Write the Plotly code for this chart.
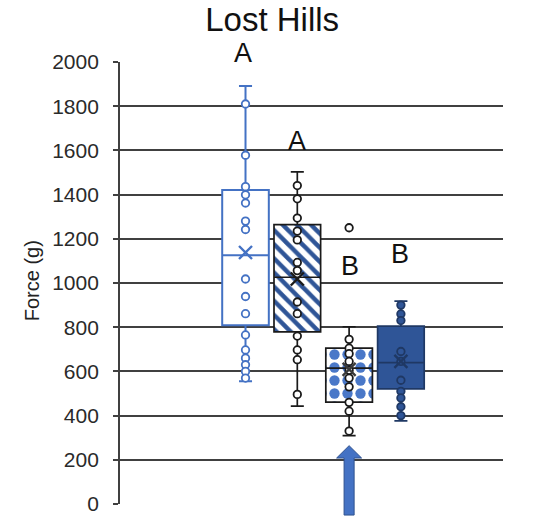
import plotly.graph_objects as go

# ---------------- data ----------------
groups = [1, 2, 3, 4]
q1 = [809, 779, 461, 521]
median = [1126, 1026, 615, 640]
q3 = [1421, 1264, 705, 805]
lower_whisker = [555, 443, 309, 376]
upper_whisker = [1891, 1503, 802, 918]
means = [1138, 1018, 609, 645]

points_1 = [1810, 1578, 1436, 1399, 1362, 1280, 1242, 1018, 939, 861, 765, 697, 660, 630, 600, 570]
points_2 = [1441, 1381, 1294, 1235, 1195, 1093, 1056, 914, 861, 760, 697, 653, 496]
points_3 = [1250, 745, 705, 680, 645, 605, 570, 530, 460, 420, 330]
points_4 = [900, 860, 830, 690, 645, 560, 510, 480, 440, 400]
all_points = [points_1, points_2, points_3, points_4]

letters = ["A", "A", "B", "B"]
letter_y = [2040, 1642, 1075, 1133]
letter_dx = [-0.05, 0.0, 0.02, -0.02]

y_ticks = [0, 200, 400, 600, 800, 1000, 1200, 1400, 1600, 1800, 2000]

# ---------------- styles ----------------
line_colors = ["#4472C4", "#1a1a1a", "#1a1a1a", "#1F3864"]
box_fills = ["white", "rgba(0,0,0,0)", "rgba(0,0,0,0)", "#2F5597"]
pt_line = ["#4472C4", "#1a1a1a", "#1a1a1a", "#1F3864"]
pt_fill = ["white", "white", "white", "#2F5597"]
mean_colors = ["#4472C4", "#1a1a1a", "#3a3a3a", "#1F3864"]

XMIN, XMAX = -1.423, 5.971
YMIN, YMAX = 0, 2000
BOXW = 0.9

fig = go.Figure()

# pattern fills (drawn under the box outlines)
fig.add_trace(go.Bar(
    x=[groups[1]], y=[q3[1] - q1[1]], base=[q1[1]], width=BOXW,
    marker=dict(color="white", line=dict(width=0),
                pattern=dict(shape="\\", fgcolor="#2F5597", bgcolor="white",
                             fgopacity=1, fillmode="replace",
                             size=10, solidity=0.45)),
    hoverinfo="skip", showlegend=False))
fig.add_trace(go.Bar(
    x=[groups[2]], y=[q3[2] - q1[2]], base=[q1[2]], width=BOXW,
    marker=dict(color="white", line=dict(width=0),
                pattern=dict(shape=".", fgcolor="#4A78C8", bgcolor="white",
                             fgopacity=1, fillmode="replace",
                             size=13, solidity=0.5)),
    hoverinfo="skip", showlegend=False))

for i, g in enumerate(groups):
    fig.add_trace(go.Box(
        x=[g], q1=[q1[i]], median=[median[i]], q3=[q3[i]],
        lowerfence=[lower_whisker[i]], upperfence=[upper_whisker[i]],
        width=BOXW, whiskerwidth=0.28,
        line=dict(color=line_colors[i], width=2 if i == 0 else 1.7),
        fillcolor=box_fills[i], boxpoints=False,
        hoverinfo="skip", showlegend=False))

for i, g in enumerate(groups):
    pts = all_points[i]
    fig.add_trace(go.Scatter(
        x=[g] * len(pts), y=pts, mode="markers",
        marker=dict(symbol="circle", size=7.5, color=pt_fill[i],
                    line=dict(color=pt_line[i], width=1.8)),
        hoverinfo="skip", showlegend=False))
    fig.add_trace(go.Scatter(
        x=[g], y=[means[i]], mode="markers",
        marker=dict(symbol="x-thin", size=13,
                    line=dict(color=mean_colors[i], width=2.4)),
        hoverinfo="skip", showlegend=False))

for i, g in enumerate(groups):
    fig.add_annotation(x=g + letter_dx[i], y=(letter_y[i] - YMIN) / (YMAX - YMIN),
                       xref="x", yref="paper",
                       text=letters[i], showarrow=False,
                       font=dict(family="Liberation Sans, Arial", size=27, color="#111111"),
                       xanchor="center", yanchor="middle")

# y-axis title
fig.add_annotation(x=-0.264, y=0.506, xref="paper", yref="paper",
                   text="Force (g)", textangle=-90, showarrow=False,
                   font=dict(family="Liberation Sans, Arial", size=20, color="#222222"))

# blue arrow under the third box
xp = (groups[2] - XMIN) / (XMAX - XMIN)
tip, head_base, bottom = 0.132, 0.104, -0.025
hw, sw = 0.0326, 0.0131
path = (f"M {xp},{tip} L {xp + hw},{head_base} L {xp + sw},{head_base} "
        f"L {xp + sw},{bottom} L {xp - sw},{bottom} L {xp - sw},{head_base} "
        f"L {xp - hw},{head_base} Z")
fig.add_shape(type="path", path=path, xref="paper", yref="paper",
              fillcolor="#4472C4", line=dict(color="#2F528F", width=1), layer="above")

fig.update_layout(
    width=551, height=527,
    margin=dict(l=120, r=48, t=62, b=18),
    paper_bgcolor="white", plot_bgcolor="white",
    boxmode="overlay", barmode="overlay",
    title=dict(text="Lost Hills", x=0.494, y=0.963, xanchor="center", yanchor="middle",
               font=dict(family="Liberation Sans, Arial", size=33, color="#111111")),
    font=dict(family="Liberation Sans, Arial"),
)
fig.update_xaxes(range=[XMIN, XMAX], showgrid=False, zeroline=False,
                 showticklabels=False, showline=False, ticks="")
fig.update_yaxes(range=[YMIN, YMAX], tickvals=y_ticks,
                 showgrid=True, gridcolor="#404040", gridwidth=1.8,
                 zeroline=False, showline=True, linecolor="#404040", linewidth=1.8,
                 ticks="outside", ticklen=5, tickcolor="#404040", tickwidth=1.8,
                 ticklabelstandoff=10,
                 tickfont=dict(family="Liberation Sans, Arial", size=21, color="#2a2a2a"))

fig.write_html("out.html")
